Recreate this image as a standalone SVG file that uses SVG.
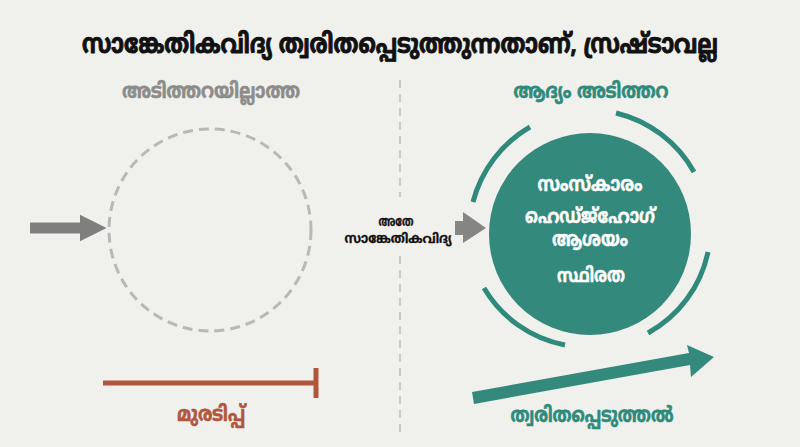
<svg xmlns="http://www.w3.org/2000/svg" width="800" height="447" viewBox="0 0 800 447">
<style>
text{font-family:"Noto Sans Malayalam","Noto Sans","Liberation Sans",sans-serif;font-weight:bold;text-anchor:middle;stroke-linejoin:round}
.title{font-size:22px;fill:#111;stroke:#111;stroke-width:0.8}
.gray{font-size:21px;fill:#8c8c8a;stroke:#8c8c8a;stroke-width:0.6}
.teal{font-size:21px;fill:#2f8a7b;stroke:#2f8a7b;stroke-width:0.6}
.red{font-size:21px;fill:#b1563c;stroke:#b1563c;stroke-width:0.6}
.inner{font-size:20px;fill:#ffffff;stroke:#ffffff;stroke-width:0.5}
.small{font-size:13px;fill:#111;stroke:#111;stroke-width:0.3}
.arc{fill:none;stroke:#2f8a7b;stroke-width:5}
</style>
<defs>
<marker id="grayHead" viewBox="0 0 10 10" refX="0" refY="5" markerWidth="2.4" markerHeight="2.6" orient="auto" markerUnits="strokeWidth"><path d="M0,0 L10,5 L0,10 z" fill="#7f7f7d"/></marker>
</defs>
<rect width="800" height="447" fill="#f0f0ec"/>
<g id="title"><text class="title" x="400" y="53" transform="translate(400,53) scale(1,1.2) translate(-400,-53)">സാങ്കേതികവിദ്യ ത്വരിതപ്പെടുത്തുന്നതാണ്, സ്രഷ്ടാവല്ല</text></g>
<g id="divider"><line x1="400" y1="80" x2="400" y2="197" stroke="#bdbdbb" stroke-width="1.5" stroke-dasharray="8 6"/><line x1="400" y1="256" x2="400" y2="432" stroke="#bdbdbb" stroke-width="1.5" stroke-dasharray="8 6"/></g>
<g id="no-foundation">
<text class="gray" x="211" y="98" textLength="178" lengthAdjust="spacingAndGlyphs">അടിത്തറയില്ലാത്ത</text>
<circle cx="210" cy="230" r="101" fill="none" stroke="#b8b8b6" stroke-width="3" stroke-dasharray="10 6"/>
</g>
<g id="same-tech"><text class="small" x="396" y="226" textLength="35" lengthAdjust="spacingAndGlyphs">അതേ</text><text class="small" x="398" y="243" textLength="107" lengthAdjust="spacingAndGlyphs">സാങ്കേതികവിദ്യ</text></g>
<g id="foundation-first">
<text class="teal" x="591" y="98" textLength="155" lengthAdjust="spacingAndGlyphs">ആദ്യം അടിത്തറ</text>
<circle cx="590" cy="234" r="101" fill="#33897b"/>
<path class="arc" d="M530,127 A122,122 0 0 0 473,202"/>
<path class="arc" d="M616,113 A122,122 0 0 1 694,172"/>
<path class="arc" d="M708,252 A120,120 0 0 1 648,333"/>
<path class="arc" d="M565,345 A120,120 0 0 1 484,288"/>
<text class="inner" x="590" y="191" textLength="105" lengthAdjust="spacingAndGlyphs">സംസ്കാരം</text>
<text class="inner" x="590" y="223" textLength="130" lengthAdjust="spacingAndGlyphs">ഹെഡ്ജ്ഹോഗ്</text>
<text class="inner" x="590" y="246" textLength="76" lengthAdjust="spacingAndGlyphs">ആശയം</text>
<text class="inner" x="591" y="282" textLength="68" lengthAdjust="spacingAndGlyphs">സ്ഥിരത</text>
</g>
<g id="stagnation">
<line x1="103" y1="383" x2="316" y2="383" stroke="#b1563c" stroke-width="5"/>
<line x1="316" y1="368" x2="316" y2="398" stroke="#b1563c" stroke-width="5"/>
<text class="red" x="211" y="421" textLength="68" lengthAdjust="spacingAndGlyphs">മുരടിപ്പ്</text>
</g>
<g id="acceleration">
<path d="M472,392 L689,353 L687,345 L714,357 L691,377 L690,365 L474,404 z" fill="#33897b"/>
<text class="teal" x="592" y="422" textLength="163" lengthAdjust="spacingAndGlyphs">ത്വരിതപ്പെടുത്തൽ</text>
</g>
<g id="connectors">
<line x1="30" y1="228" x2="80" y2="228" stroke="#7f7f7d" stroke-width="11" marker-end="url(#grayHead)"/>
<path d="M455,221 L463,221 L463,212 L486,228 L463,243 L463,235 L455,235 z" fill="#858583"/>
</g>
</svg>
